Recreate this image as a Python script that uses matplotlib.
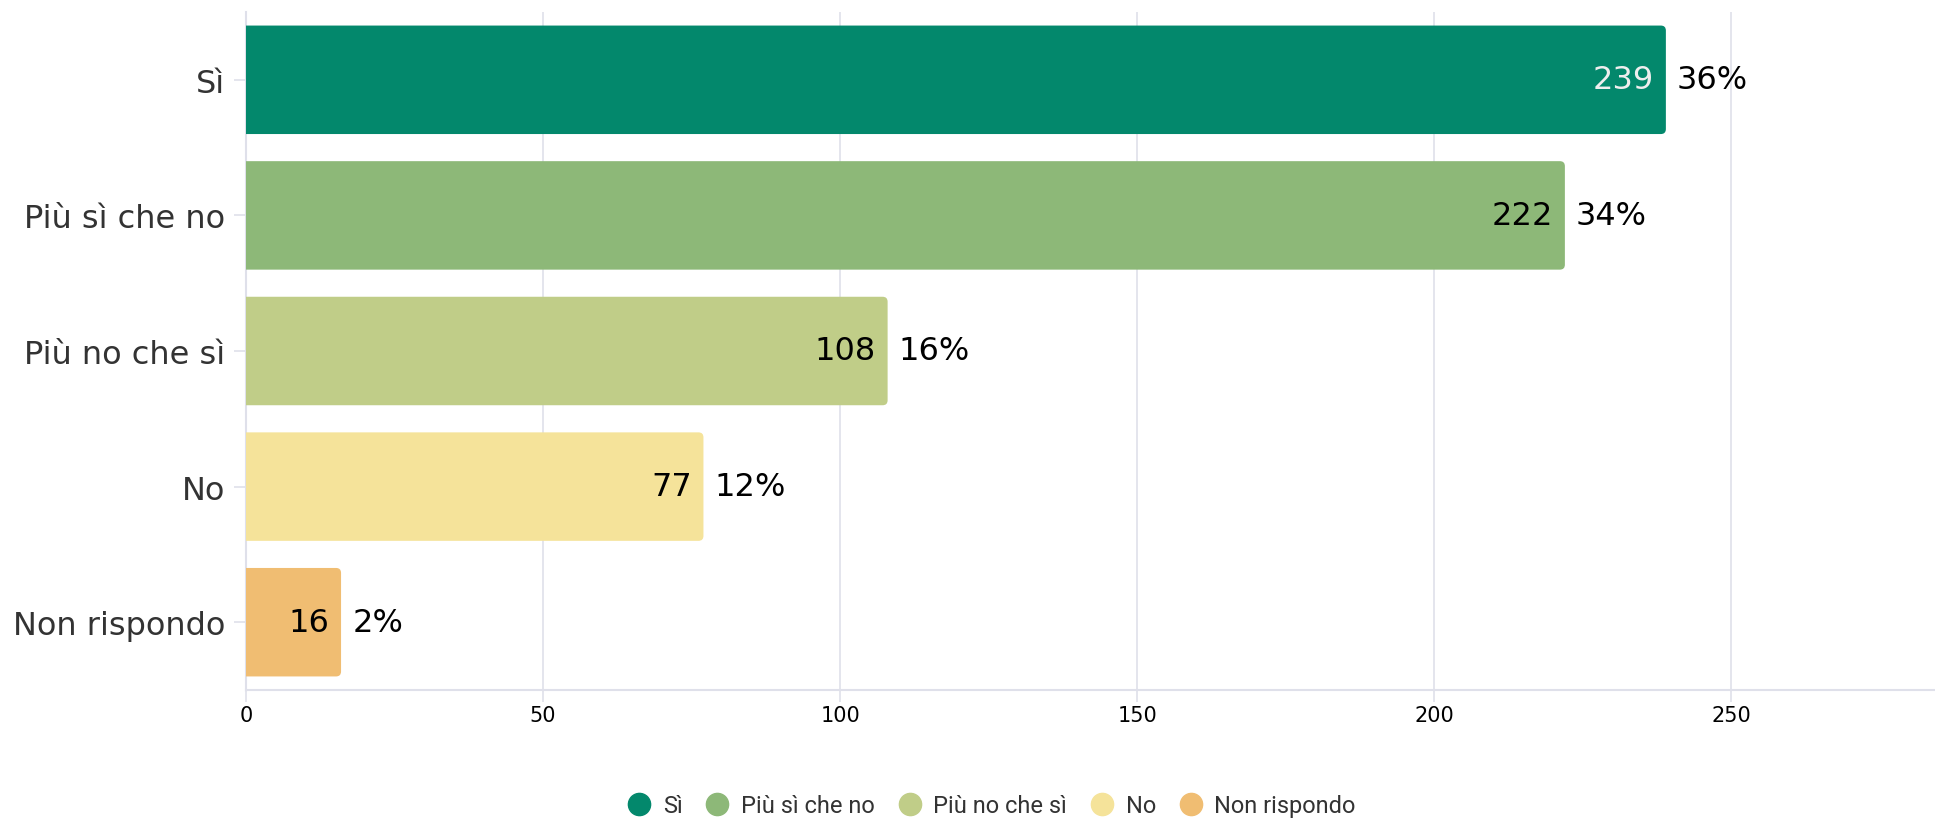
import matplotlib
matplotlib.use('Agg')
import matplotlib.pyplot as plt
from matplotlib.patches import FancyBboxPatch
from matplotlib.lines import Line2D

plt.rcParams['font.family'] = ['DejaVu Sans']

categories = ['Sì', 'Più sì che no', 'Più no che sì', 'No', 'Non rispondo']
counts     = [239, 222, 108, 77, 16]
percents   = ['36%', '34%', '16%', '12%', '2%']
colors     = ['#03886C', '#8DB878', '#C0CD88', '#F5E39A', '#F0BD72']
count_text = ['#EEEEEE', 'black', 'black', 'black', 'black']
xticks     = [0, 50, 100, 150, 200, 250]

grid_col = '#DFE0EA'

fig = plt.figure(figsize=(19.35, 8.2), dpi=100)
ax = fig.add_axes([246/1935, 129/820, 1 - 246/1935, (691-13)/820])

ypos = list(range(len(categories)))
bars = ax.barh(ypos, counts, height=0.8, color=colors, zorder=3)

# rounded right corners: swap rectangles for rounded boxes, left part clipped by the axes
rx = 0.84
for b, c in zip(bars, colors):
	x, y = b.get_x(), b.get_y()
	w, h = b.get_width(), b.get_height()
	b.remove()
	p = FancyBboxPatch((x - 3, y), w + 3, h,
		boxstyle='round,pad=0,rounding_size=%f' % rx,
		mutation_aspect=0.044, facecolor=c, edgecolor='none', zorder=3)
	ax.add_patch(p)

for i, (v, pc) in enumerate(zip(counts, percents)):
	ax.annotate(str(v), (v, i), xytext=(-8.5, 0), textcoords='offset points',
		ha='right', va='center', fontsize=23, color=count_text[i], zorder=4)
	ax.annotate(pc, (v, i), xytext=(8, 0), textcoords='offset points',
		ha='left', va='center', fontsize=23, color='black', zorder=4)

ax.set_xlim(0, 284.3)
ax.set_ylim(len(categories) - 0.5, -0.5)
ax.set_yticks(ypos)
ax.set_yticklabels(categories, fontsize=23, color='#333333')
ax.set_xticks(xticks)
ax.set_xticklabels([str(t) for t in xticks], fontsize=15, color='black')

ax.tick_params(axis='y', length=8.6, width=1.2, color=grid_col, pad=6.5)
ax.tick_params(axis='x', length=8.6, width=1.2, color=grid_col, pad=2)

ax.grid(axis='x', color=grid_col, linewidth=1.2, zorder=0)
ax.set_axisbelow(True)
for s in ['top', 'right']:
	ax.spines[s].set_visible(False)
ax.spines['left'].set_color(grid_col)
ax.spines['bottom'].set_color(grid_col)
ax.spines['left'].set_linewidth(1.5)
ax.spines['bottom'].set_linewidth(1.5)

handles = [Line2D([], [], marker='o', linestyle='none', markersize=16,
	markerfacecolor=c, markeredgecolor=c) for c in colors]
fig.legend(handles, categories, loc='center', bbox_to_anchor=(988/1935, 1 - 807/820),
	ncol=len(categories), frameon=False, handlelength=1.6, handletextpad=0.2,
	columnspacing=0.68,
	prop={'family': ['Roboto', 'DejaVu Sans'], 'size': 17}, labelcolor='#333333')

fig.savefig('out.png', dpi=100)
